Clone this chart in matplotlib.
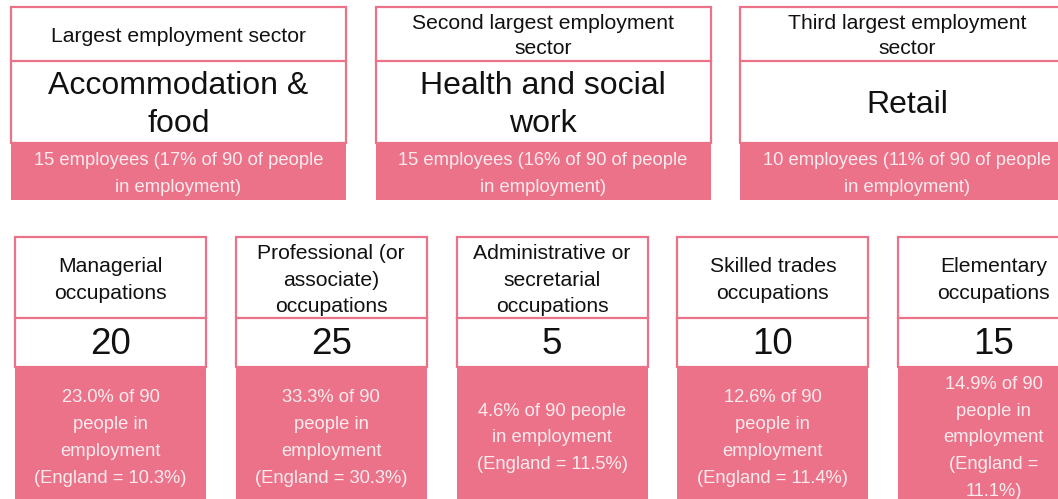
import matplotlib
matplotlib.use('Agg')
from matplotlib import pyplot as plt
from matplotlib.patches import Rectangle

plt.rcParams['font.family'] = ['Liberation Sans', 'DejaVu Sans']

# top row: employment sectors
sector_titles = ['Largest employment sector', 'Second largest employment\nsector', 'Third largest employment\nsector']
sector_names = ['Accommodation &\nfood', 'Health and social\nwork', 'Retail']
sector_notes = ['15 employees (17% of 90 of people\nin employment)',
                '15 employees (16% of 90 of people\nin employment)',
                '10 employees (11% of 90 of people\nin employment)']

# bottom row: occupations
occ_titles = ['Managerial\noccupations', 'Professional (or\nassociate)\noccupations',
              'Administrative or\nsecretarial\noccupations', 'Skilled trades\noccupations',
              'Elementary\noccupations']
occ_counts = [20, 25, 5, 10, 15]
occ_notes = ['23.0% of 90\npeople in\nemployment\n(England = 10.3%)',
             '33.3% of 90\npeople in\nemployment\n(England = 30.3%)',
             '4.6% of 90 people\nin employment\n(England = 11.5%)',
             '12.6% of 90\npeople in\nemployment\n(England = 11.4%)',
             '14.9% of 90\npeople in\nemployment\n(England =\n11.1%)']

pink = '#ec7289'
light = '#fcecef'

fig = plt.figure(figsize=(10.58, 4.99), dpi=100)
ax = fig.add_axes([0, 0, 1, 1])
ax.set_xlim(0, 1058)
ax.set_ylim(499, 0)
ax.axis('off')

# top cards
for i in range(len(sector_titles)):
    x0 = 11 + i * 364.5
    w = 335
    ax.add_patch(Rectangle((x0, 143), w, 57, facecolor=pink, edgecolor='none'))
    ax.add_patch(Rectangle((x0, 7), w, 136, facecolor='white', edgecolor=pink, lw=1.6))
    ax.plot([x0, x0 + w], [61, 61], color=pink, lw=1.6)
    cx = x0 + w / 2
    ax.text(cx, 36, sector_titles[i], ha='center', va='center', fontsize=15.2,
            color='#111111', linespacing=1.42)
    ax.text(cx, 105, sector_names[i], ha='center', va='center', fontsize=23,
            color='#111111', linespacing=1.37)
    ax.text(cx, 174, sector_notes[i], ha='center', va='center', fontsize=13.2,
            color=light, linespacing=1.76)

# bottom cards
for i in range(len(occ_titles)):
    x0 = 15 + i * 220.8
    w = 191
    ax.add_patch(Rectangle((x0, 367), w, 140, facecolor=pink, edgecolor='none'))
    ax.add_patch(Rectangle((x0, 237), w, 130, facecolor='white', edgecolor=pink, lw=1.6))
    ax.plot([x0, x0 + w], [318, 318], color=pink, lw=1.6)
    cx = x0 + w / 2
    ax.text(cx, 280, occ_titles[i], ha='center', va='center', fontsize=15.2,
            color='#111111', linespacing=1.52)
    ax.text(cx, 345, str(occ_counts[i]), ha='center', va='center', fontsize=26.5,
            color='#111111')
    ax.text(cx, 438, occ_notes[i], ha='center', va='center', fontsize=13.2,
            color=light, linespacing=1.76)

plt.savefig('out.png', dpi=100)
